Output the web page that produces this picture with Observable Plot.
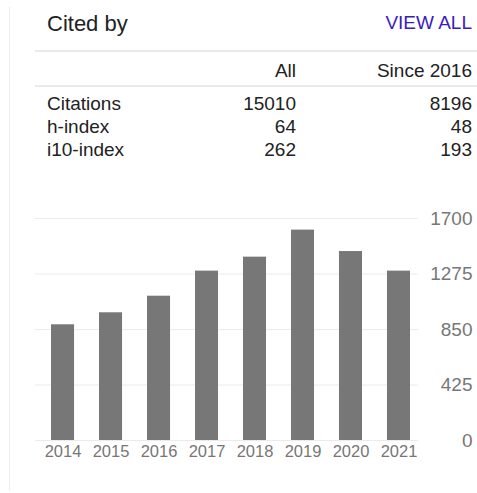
<!DOCTYPE html>
<html>
<head>
<meta charset="utf-8">
<script src="https://cdn.jsdelivr.net/npm/d3@7"></script>
<script src="https://cdn.jsdelivr.net/npm/@observablehq/plot@0.6"></script>
<style>
  html, body { margin: 0; padding: 0; background: #fff; }
  body { font-family: "Liberation Sans", Arial, sans-serif; color: #222; }
  #wrap { position: relative; width: 477px; height: 493px; overflow: hidden; }
  .abs { position: absolute; white-space: nowrap; line-height: 1; }
  #border { position: absolute; left: 9px; top: 7px; width: 1px; height: 484px; background: #eeeeee; }
  .sep { position: absolute; left: 35px; width: 442px; height: 2px; background: #eaeaea; }
  #chart { position: absolute; left: 0; top: 190px; }
</style>
</head>
<body>
<div id="wrap">
  <div id="border"></div>
  <div class="abs" id="title" style="left:47px; top:13px; font-size:22px;">Cited by</div>
  <div class="abs" id="viewall" style="right:5px; top:13px; font-size:19px; color:#3a1cc0;">VIEW ALL</div>
  <div class="sep" style="top:50px;"></div>
  <div class="sep" style="top:85px;"></div>
  <div id="table"></div>
  <div id="chart"></div>
</div>
<script>
// Table data
const headers = ["All", "Since 2016"];
const rowLabels = ["Citations", "h-index", "i10-index"];
const allValues = [15010, 64, 262];
const sinceValues = [8196, 48, 193];

// Chart data
const years = ["2014", "2015", "2016", "2017", "2018", "2019", "2020", "2021"];
const citations = [886, 978, 1105, 1297, 1404, 1611, 1447, 1297];
const yTicks = [0, 425, 850, 1275, 1700];

// Build table text
const table = document.getElementById("table");
function addText(txt, styles) {
  const d = document.createElement("div");
  d.className = "abs";
  d.textContent = txt;
  Object.assign(d.style, styles);
  table.appendChild(d);
}
const fs = "19px";
addText(headers[0], {right: (477 - 296) + "px", top: "61px", fontSize: fs});
addText(headers[1], {right: "5px", top: "61px", fontSize: fs});
rowLabels.forEach((lab, i) => {
  const top = (94 + i * 23) + "px";
  addText(lab, {left: "47px", top, fontSize: fs});
  addText(String(allValues[i]), {right: (477 - 296) + "px", top, fontSize: fs});
  addText(String(sinceValues[i]), {right: "5px", top, fontSize: fs});
});

// Chart
const data = years.map((y, i) => ({year: y, value: citations[i]}));
const chart = Plot.plot({
  width: 477,
  height: 303,
  marginTop: 28,
  marginBottom: 53,
  marginLeft: 35,
  marginRight: 59,
  style: {fontFamily: "'Liberation Sans', Arial, sans-serif", background: "transparent"},
  x: {domain: years, paddingInner: 0.52, paddingOuter: 0.25, align: 0.667, round: false, label: null},
  y: {domain: [0, 1700], ticks: yTicks, label: null},
  marks: [
    Plot.ruleY(yTicks, {stroke: "#ebebeb", strokeWidth: 1}),
    Plot.barY(data, {x: "year", y: "value", fill: "#777777"}),
    Plot.axisY({anchor: "right", ticks: yTicks, tickSize: 0, tickPadding: 54, textAnchor: "end", fontSize: 19, fill: "#777777", fillOpacity: 1, label: null, tickFormat: d => String(d)}),
    Plot.axisX({tickSize: 0, tickPadding: 5, fontSize: 16.5, fill: "#777777", fillOpacity: 1, label: null})
  ]
});
document.getElementById("chart").appendChild(chart);
</script>
</body>
</html>
